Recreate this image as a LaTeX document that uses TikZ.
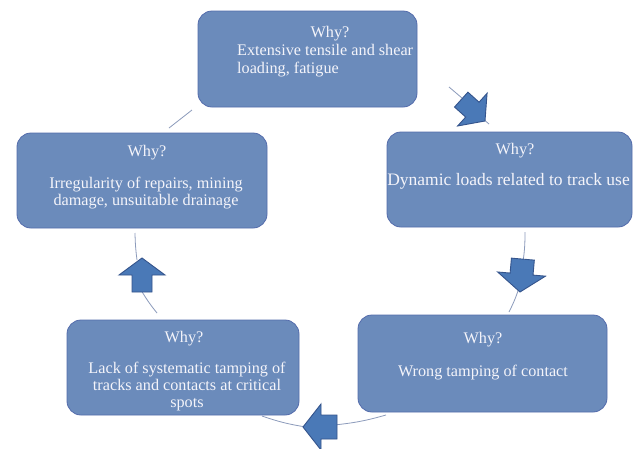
\documentclass[tikz,border=0pt]{standalone}
\usepackage{fontspec}
\setmainfont{Liberation Serif}
\definecolor{boxfill}{RGB}{107,139,187}
\definecolor{boxline}{RGB}{84,108,172}
\definecolor{arrfill}{RGB}{74,121,183}
\definecolor{arrline}{RGB}{52,84,140}
\definecolor{ringline}{RGB}{140,155,187}
\definecolor{txt}{RGB}{244,244,250}
\tikzset{
  box/.style={draw=boxline, line width=0.8pt, fill=boxfill, rounded corners=14pt, inner sep=0pt},
  why/.style={anchor=base, inner sep=0pt, text=txt, font=\fontsize{16.2}{18}\selectfont},
  bigwhy/.style={why, font=\fontsize{17.5}{19}\selectfont},
  blockarrow/.style={fill=arrfill, draw=arrline, line width=0.9pt, line join=miter},
  ring/.style={draw=ringline, line width=0.8pt}
}
\begin{document}
\begin{tikzpicture}[x=1pt,y=-1pt]
\useasboundingbox (0,0) rectangle (633,448);
\fill[white] (0,0) rectangle (633,448);
% connector end points
\coordinate (a1) at (449,87);
\coordinate (a2) at (462,98);
\coordinate (b1) at (482,118);
\coordinate (b2) at (489,124);
\coordinate (c1) at (525,232);
\coordinate (c2) at (523,262);
\coordinate (d1) at (519,288);
\coordinate (d2) at (509,312);
\coordinate (e1) at (386,415);
\coordinate (e2) at (334,425);
\coordinate (f1) at (306,427);
\coordinate (f2) at (262,416);
\coordinate (g1) at (157,313);
\coordinate (g2) at (141,290);
\coordinate (h1) at (137,260);
\coordinate (h2) at (135,233);
\coordinate (i1) at (169,128);
\coordinate (i2) at (192,110);
% connectors (arc pieces)
\draw[ring] (a1) -- (a2);
\draw[ring] (b1) -- (b2);
\draw[ring] (c1) to[bend left=4] (c2);
\draw[ring] (d1) to[bend left=4] (d2);
\draw[ring] (e1) to[bend left=5] (e2);
\draw[ring] (f1) to[bend left=5] (f2);
\draw[ring] (g1) to[bend right=-4] (g2);
\draw[ring] (h1) to[bend left=3] (h2);
\draw[ring] (i1) -- (i2);
% boxes
\node[box, minimum width=219pt, minimum height=96pt] (top) at (307.5,59) {};
\node[box, minimum width=245pt, minimum height=95pt] (right) at (509.5,179.5) {};
\node[box, minimum width=249pt, minimum height=97pt] (bright) at (482.5,363.5) {};
\node[box, minimum width=232pt, minimum height=95pt] (bleft) at (183,367.5) {};
\node[box, minimum width=250pt, minimum height=95pt] (left) at (142,180.5) {};
% texts
\node[why] (t1) at (330,37) {Why?};
\node[why, anchor=base west] (t2) at (237,55) {Extensive tensile and shear};
\node[why, anchor=base west] (t3) at (237,73) {loading, fatigue};
\node[why] (r1) at (515,154) {Why?};
\node[bigwhy] (r2) at (508.5,185) {Dynamic loads related to track use};
\node[why] (br1) at (483,343) {Why?};
\node[why] (br2) at (483,376) {Wrong tamping of contact};
\node[why] (bl1) at (184,342) {Why?};
\node[why] (bl2) at (187,373) {Lack of systematic tamping of};
\node[why] (bl3) at (187,390) {tracks and contacts at critical};
\node[why] (bl4) at (187,407) {spots};
\node[why] (l1) at (147,156) {Why?};
\node[why] (l2) at (146,188) {Irregularity of repairs, mining};
\node[why] (l3) at (146,205) {damage, unsuitable drainage};
% block arrows
\begin{scope}[shift={(485,121)}, rotate=-42]
  \draw[blockarrow] (0,0) -- (-17,22) -- (-17,10) -- (-32,10) -- (-32,-10) -- (-17,-10) -- (-17,-22) -- cycle;
\end{scope}
\begin{scope}[shift={(520,292)}, rotate=-95]
  \draw[blockarrow] (0,0) -- (-18,24) -- (-18,11.5) -- (-33,11.5) -- (-33,-11.5) -- (-18,-11.5) -- (-18,-24) -- cycle;
\end{scope}
\begin{scope}[shift={(303,427)}, rotate=180]
  \draw[blockarrow] (0,0) -- (-18,23) -- (-18,12) -- (-34,12) -- (-34,-12) -- (-18,-12) -- (-18,-23) -- cycle;
\end{scope}
\begin{scope}[shift={(142,258)}, rotate=90]
  \draw[blockarrow] (0,0) -- (-17,23) -- (-17,10) -- (-34,10) -- (-34,-10) -- (-17,-10) -- (-17,-23) -- cycle;
\end{scope}
\end{tikzpicture}
\end{document}
